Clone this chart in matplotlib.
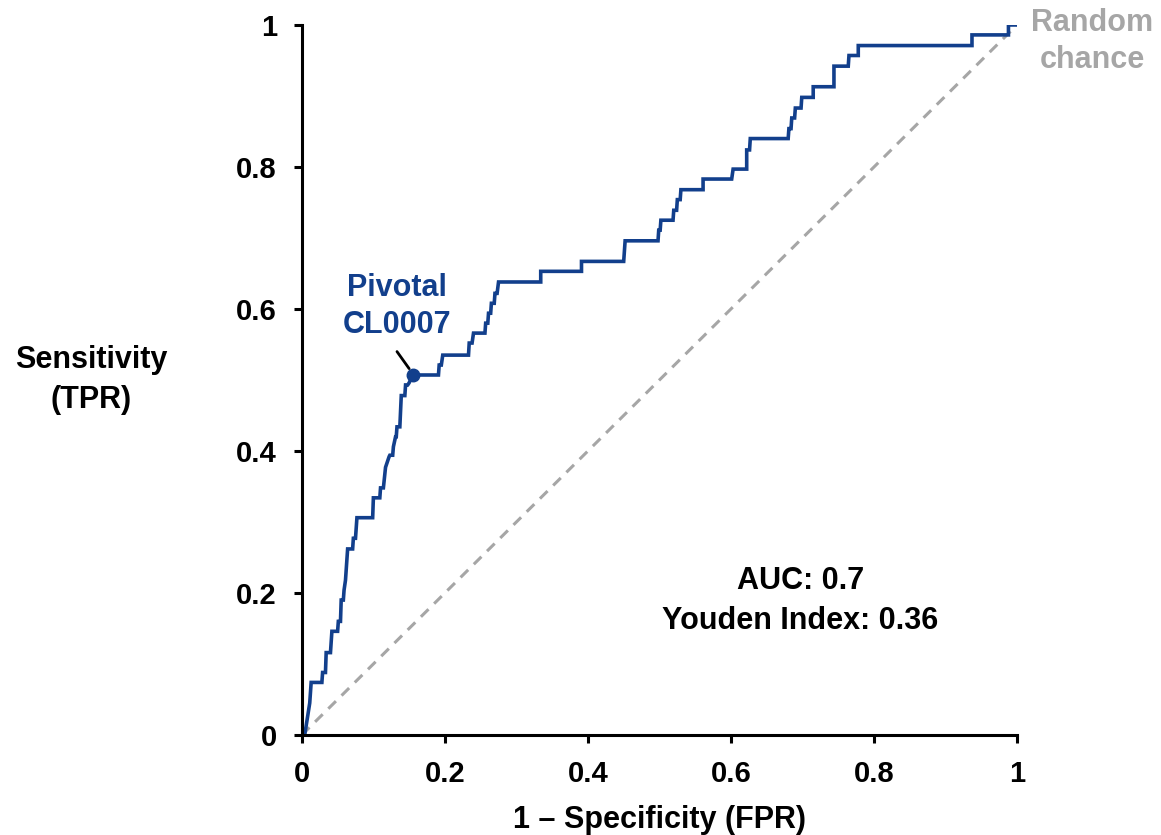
import matplotlib
matplotlib.use("Agg")
import matplotlib.pyplot as plt
from matplotlib.ticker import FuncFormatter

# ROC curve vertices
fpr = [0.000, 0.004, 0.011, 0.013, 0.028, 0.029, 0.033, 0.034, 0.040, 0.042,
       0.050, 0.051, 0.054, 0.055, 0.058, 0.059, 0.061, 0.064, 0.071, 0.072,
       0.075, 0.077, 0.099, 0.100, 0.109, 0.110, 0.114, 0.117, 0.122, 0.123,
       0.127, 0.128, 0.131, 0.132, 0.133, 0.137, 0.139, 0.144, 0.145, 0.148,
       0.150, 0.155, 0.191, 0.192, 0.195, 0.197, 0.233, 0.234, 0.238, 0.240,
       0.256, 0.257, 0.260, 0.261, 0.264, 0.265, 0.269, 0.270, 0.273, 0.275,
       0.334, 0.334, 0.391, 0.391, 0.450, 0.452, 0.498, 0.499, 0.501, 0.502,
       0.519, 0.520, 0.524, 0.525, 0.529, 0.530, 0.535, 0.561, 0.561, 0.601,
       0.603, 0.622, 0.622, 0.626, 0.627, 0.680, 0.681, 0.684, 0.685, 0.689,
       0.690, 0.698, 0.699, 0.715, 0.715, 0.744, 0.744, 0.764, 0.765, 0.778,
       0.778, 0.937, 0.937, 0.988, 0.988, 1.000]
tpr = [0.000, 0.000, 0.045, 0.074, 0.074, 0.088, 0.088, 0.116, 0.116, 0.146,
       0.146, 0.160, 0.160, 0.190, 0.190, 0.204, 0.218, 0.262, 0.262, 0.277,
       0.277, 0.306, 0.306, 0.334, 0.334, 0.348, 0.348, 0.377, 0.392, 0.394,
       0.394, 0.406, 0.420, 0.420, 0.434, 0.434, 0.478, 0.478, 0.493, 0.493,
       0.496, 0.507, 0.507, 0.521, 0.521, 0.535, 0.535, 0.552, 0.552, 0.566,
       0.566, 0.580, 0.580, 0.594, 0.594, 0.608, 0.608, 0.622, 0.622, 0.638,
       0.638, 0.653, 0.653, 0.667, 0.667, 0.696, 0.696, 0.711, 0.711, 0.725,
       0.725, 0.739, 0.739, 0.754, 0.754, 0.768, 0.768, 0.768, 0.783, 0.783,
       0.797, 0.797, 0.824, 0.824, 0.840, 0.840, 0.854, 0.854, 0.869, 0.869,
       0.883, 0.883, 0.898, 0.898, 0.913, 0.913, 0.942, 0.942, 0.957, 0.957,
       0.971, 0.971, 0.986, 0.986, 1.000, 1.000]

pivot_fpr = 0.155
pivot_tpr = 0.507
auc = 0.7
youden = 0.36

ticks = [0, 0.2, 0.4, 0.6, 0.8, 1]

blue = "#123f8c"
grey = "#a6a6a6"

plt.rcParams["font.family"] = ["Liberation Sans", "DejaVu Sans"]
plt.rcParams["font.weight"] = "bold"

fig = plt.figure(figsize=(11.61, 8.35), dpi=100)
ax = fig.add_axes([0.260, 0.1198, 0.616, 0.8503])

ax.plot([0, 1], [0, 1], color=grey, lw=2.2, linestyle=(0, (3.5, 2.6)), zorder=1)
ax.plot(fpr, tpr, color=blue, lw=2.6, zorder=2, solid_joinstyle="miter")
ax.plot([pivot_fpr], [pivot_tpr], "o", color=blue, markersize=9, zorder=3)

# leader line from the label to the pivotal point
ax.annotate("", xy=(pivot_fpr - 0.005, pivot_tpr + 0.009),
            xytext=(0.133, 0.540),
            arrowprops=dict(arrowstyle="-", color="black", lw=2,
                            shrinkA=0, shrinkB=0))
ax.text(0.133, 0.604, "Pivotal\nCL0007", ha="center", va="center",
        fontsize=22, fontweight="bold", color=blue, linespacing=1.3)

ax.text(1.105, 0.977, "Random\nchance", ha="center", va="center",
        fontsize=22, fontweight="bold", color=grey, linespacing=1.3,
        clip_on=False)

ax.text(0.697, 0.189, f"AUC: {auc}\nYouden Index: {youden}", ha="center",
        va="center", fontsize=22, fontweight="bold", color="black",
        linespacing=1.45)

ax.set_xlim(0, 1)
ax.set_ylim(0, 1)
ax.set_xticks(ticks)
ax.set_yticks(ticks)
fmt = FuncFormatter(lambda v, p: "%g" % v)
ax.xaxis.set_major_formatter(fmt)
ax.yaxis.set_major_formatter(fmt)

for s in ["top", "right"]:
    ax.spines[s].set_visible(False)
for s in ["left", "bottom"]:
    ax.spines[s].set_linewidth(2.2)
    ax.spines[s].set_color("black")

ax.tick_params(axis="both", direction="out", length=6, width=2.2,
               labelsize=21)
ax.tick_params(axis="x", pad=12)
ax.tick_params(axis="y", pad=12)
for lbl in ax.get_xticklabels() + ax.get_yticklabels():
    lbl.set_fontweight("bold")

ax.set_xlabel("1 \u2013 Specificity (FPR)", fontsize=22, fontweight="bold",
              labelpad=12)
ax.set_ylabel("Sensitivity\n(TPR)", fontsize=22, fontweight="bold",
              rotation=0, ha="center", va="center", linespacing=1.45)
ax.yaxis.set_label_coords(-0.295, 0.5)

fig.savefig("out.png", dpi=100)
plt.close(fig)
